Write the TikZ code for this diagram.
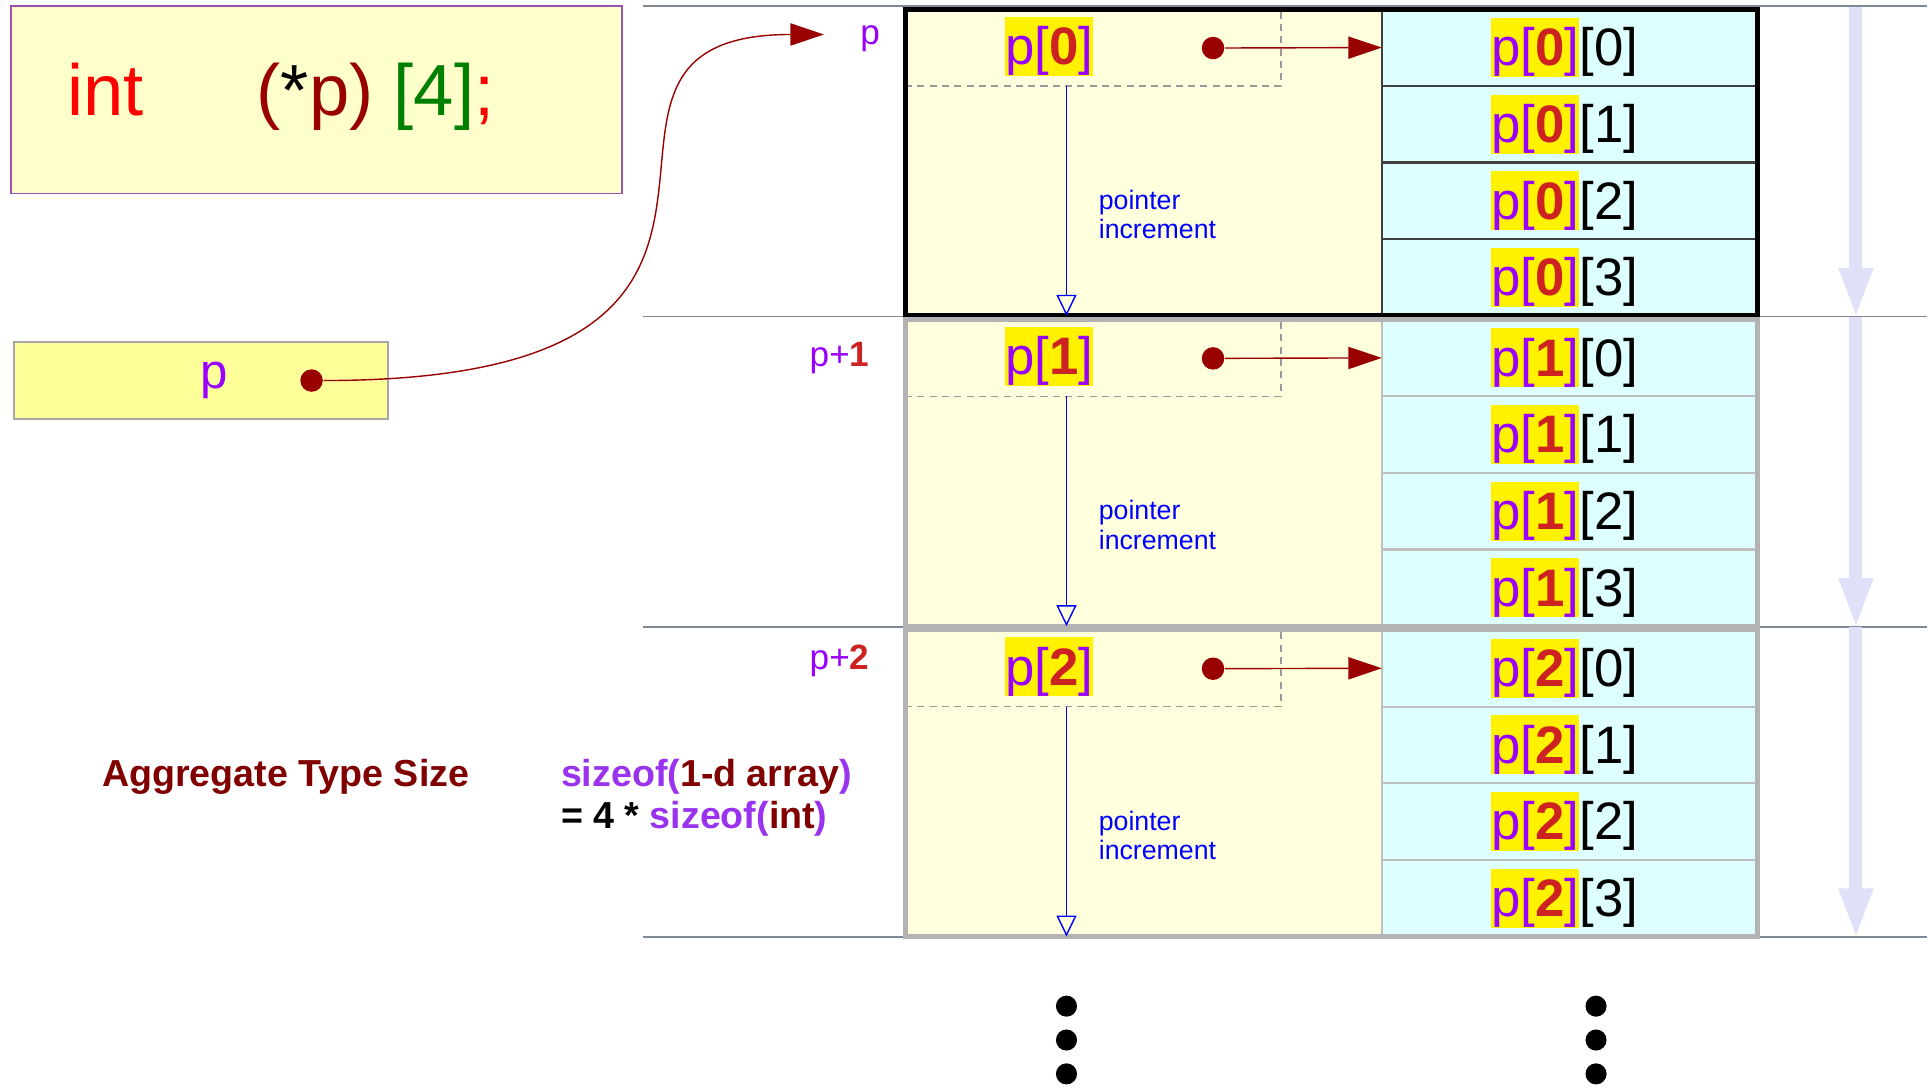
\documentclass[tikz,border=0pt]{standalone}
\usepackage{fontspec}
\setmainfont{Liberation Sans}
\usepackage{xcolor}
\usepackage{tikz}
\usetikzlibrary{arrows.meta,positioning,fit}

\definecolor{ptrpurple}{HTML}{9900FF}
\definecolor{idxred}{HTML}{CC2222}
\definecolor{hlyellow}{HTML}{FFF200}
\definecolor{halfyellow}{HTML}{FFFFDD}
\definecolor{cellcyan}{HTML}{DDFFFF}
\definecolor{declyellow}{HTML}{FFFFCC}
\definecolor{pboxyellow}{HTML}{FFFF99}
\definecolor{declpurple}{HTML}{A050B0}
\definecolor{darkred}{HTML}{990000}
\definecolor{maroon}{HTML}{800000}
\definecolor{sizepurple}{HTML}{9933EE}
\definecolor{codegreen}{HTML}{008000}
\definecolor{rulegray}{HTML}{808A95}
\definecolor{framegray}{HTML}{B3B3B3}
\definecolor{lavender}{HTML}{E0E0F8}

% p[k] in its colours, and the yellow marker behind it
\newcommand{\pk}[1]{\textcolor{ptrpurple}{p[}\textcolor{idxred}{\textbf{#1}}\textcolor{ptrpurple}{]}}
\newcommand{\hlbox}[1]{{\setlength{\fboxsep}{0pt}\colorbox{hlyellow}{\rule[-0.212em]{0pt}{1.117em}#1}}}

\begin{document}
\begin{tikzpicture}[
  x=0.012315cm, y=-0.012315cm,
  decl/.style={rectangle, draw=declpurple, fill=declyellow, line width=0.5pt, minimum width=173.8pt, minimum height=53.3pt},
  decltext/.style={font=\fontsize{20.6}{24}\selectfont, inner sep=0},
  pbox/.style={rectangle, draw=black!35, fill=pboxyellow, line width=0.5pt, minimum width=106.3pt, minimum height=21.9pt, font=\fontsize{14}{17}\selectfont, text=ptrpurple},
  half/.style={rectangle, fill=halfyellow, minimum width=135.6pt, minimum height=87.25pt, inner sep=0, outer sep=0},
  cell/.style={rectangle, fill=cellcyan, draw=#1, line width=0.6pt, minimum width=106.9pt, minimum height=21.81pt, inner sep=0, outer sep=0, font=\fontsize{15}{18}\selectfont},
  cell/.default=black!75,
  slot/.style={rectangle, draw=black!40, dash pattern=on 2pt off 1.5pt, line width=0.4pt, minimum width=106.9pt, minimum height=21.81pt, inner sep=0, outer sep=0},
  ptr/.style={fill=hlyellow, inner sep=0, text height=13.58pt, text depth=3.18pt, font=\fontsize{15}{18}\selectfont},
  dot/.style={circle, fill=darkred, minimum size=6.4pt, inner sep=0},
  blockframe/.style={rectangle, draw=#1, line width=1.4pt, inner sep=0},
  addr/.style={font=\fontsize{10}{12}\selectfont, text=ptrpurple, inner sep=0},
  incrlabel/.style={font=\fontsize{7.6}{8.3}\selectfont, text=blue, align=left, inner sep=0},
  sizetext/.style={font=\fontsize{10.7}{11.9}\selectfont\bfseries, inner sep=0},
  ellip/.style={circle, fill=black, minimum size=6pt, inner sep=0},
  sepline/.style={draw=rulegray, line width=0.5pt},
  incr/.style={-{Triangle[open, length=6pt, width=5.7pt]}, draw=blue, line width=0.4pt},
  ptrarrow/.style={-{Triangle[length=9.5pt, width=6.3pt]}, draw=darkred, line width=0.4pt},
  stride/.style={-{Triangle[length=14.4pt, width=8.8pt]}, draw=lavender, line width=3.7pt},
]
\useasboundingbox (0,0) rectangle (1568,883);

% Separators
\draw[sepline] (522,5) -- (1565,5);
\draw[sepline] (522,257) -- (1565,257);
\draw[sepline] (522,509) -- (1565,509);
\draw[sepline] (522,761) -- (1565,761);

% Declaration
\node[decl] (decl) at (257,81) {};
\node[decltext, anchor=base west, text=red] (kw) at (54,93.4) {int};
\node[decltext, anchor=base west] (declr) at (208,93.4) {\textcolor{darkred}{(}*\textcolor{darkred}{p)} \textcolor{codegreen}{[4]}\textcolor{red}{;}};

% Pointer variable
\node[pbox] (pvar) at (163.3,308.8) {\hspace*{7.4pt}p};
\node[dot] (pdot) at (253,309) {};
\coordinate (ptip) at (669,28);

% Block 0
\node[half] (half0) at (928.5,132) {};
\node[cell, anchor=north west] (c00) at (half0.north east) {\hlbox{\pk{0}}[0]\hspace*{2.8pt}};
\node[cell, below=0pt of c00] (c01) {\hlbox{\pk{0}}[1]\hspace*{2.8pt}};
\node[cell, below=0pt of c01] (c02) {\hlbox{\pk{0}}[2]\hspace*{2.8pt}};
\node[cell, below=0pt of c02] (c03) {\hlbox{\pk{0}}[3]\hspace*{2.8pt}};
\node[slot, anchor=north west] (slot0) at (half0.north west) {};
\node[ptr] (ptr0) at (852,37.5) {\pk{0}};
\node[dot] (dot0) at (985,39) {};
\node[blockframe=black, fit=(half0)(c03)] (blk0) {};
\node[addr, anchor=base east] (addr0) at (715,36.5) {p};

% Block 1
\node[half] (half1) at (928.5,384) {};
\node[cell=black!25, anchor=north west] (c10) at (half1.north east) {\hlbox{\pk{1}}[0]\hspace*{2.8pt}};
\node[cell=black!25, below=0pt of c10] (c11) {\hlbox{\pk{1}}[1]\hspace*{2.8pt}};
\node[cell=black!25, below=0pt of c11] (c12) {\hlbox{\pk{1}}[2]\hspace*{2.8pt}};
\node[cell=black!25, below=0pt of c12] (c13) {\hlbox{\pk{1}}[3]\hspace*{2.8pt}};
\node[slot, anchor=north west] (slot1) at (half1.north west) {};
\node[ptr] (ptr1) at (852,289.5) {\pk{1}};
\node[dot] (dot1) at (985,291) {};
\node[blockframe=framegray, fit=(half1)(c13)] (blk1) {};
\node[addr, anchor=base east] (addr1) at (706.5,297.7) {p+\textcolor{idxred}{\textbf{1}}};

% Block 2
\node[half] (half2) at (928.5,636) {};
\node[cell=black!25, anchor=north west] (c20) at (half2.north east) {\hlbox{\pk{2}}[0]\hspace*{2.8pt}};
\node[cell=black!25, below=0pt of c20] (c21) {\hlbox{\pk{2}}[1]\hspace*{2.8pt}};
\node[cell=black!25, below=0pt of c21] (c22) {\hlbox{\pk{2}}[2]\hspace*{2.8pt}};
\node[cell=black!25, below=0pt of c22] (c23) {\hlbox{\pk{2}}[3]\hspace*{2.8pt}};
\node[slot, anchor=north west] (slot2) at (half2.north west) {};
\node[ptr] (ptr2) at (852,541.5) {\pk{2}};
\node[dot] (dot2) at (985,543) {};
\node[blockframe=framegray, fit=(half2)(c23)] (blk2) {};
\node[addr, anchor=base east] (addr2) at (706.5,544) {p+\textcolor{idxred}{\textbf{2}}};

% Sizes
\node[sizetext, text=maroon] (aggr) at (232,631) {Aggregate Type Size};
\node[sizetext, align=left, anchor=base west] (sizeexpr) at (455,673) {\textcolor{sizepurple}{sizeof(}\textcolor{maroon}{1-d array}\textcolor{sizepurple}{)}\\= 4 * \textcolor{sizepurple}{sizeof(}\textcolor{maroon}{int}\textcolor{sizepurple}{)}};

% More rows
\node[ellip] (more1) at (866,817) {};
\node[ellip] (more2) at (866,844.5) {};
\node[ellip] (more3) at (866,872) {};
\node[ellip] (more4) at (1296,817) {};
\node[ellip] (more5) at (1296,844.5) {};
\node[ellip] (more6) at (1296,872) {};

% Arrows
\draw[ptrarrow] (pdot) .. controls +(453,0) and +(-255,0) .. (ptip);
\draw[ptrarrow] (dot0) -- (c00.west);
\draw[ptrarrow] (dot1) -- (c10.west);
\draw[ptrarrow] (dot2) -- (c20.west);
\draw[incr] ([xshift=45.9pt]slot0.south west) -- ([xshift=45.9pt]half0.south west) node[incrlabel, pos=0.56, right=9pt] {pointer\\increment};
\draw[incr] ([xshift=45.9pt]slot1.south west) -- ([xshift=45.9pt]half1.south west) node[incrlabel, pos=0.56, right=9pt] {pointer\\increment};
\draw[incr] ([xshift=45.9pt]slot2.south west) -- ([xshift=45.9pt]half2.south west) node[incrlabel, pos=0.56, right=9pt] {pointer\\increment};
\draw[stride] ([xshift=27.3pt]blk0.north east) -- ([xshift=27.3pt]blk0.south east);
\draw[stride] ([xshift=27.3pt]blk1.north east) -- ([xshift=27.3pt]blk1.south east);
\draw[stride] ([xshift=27.3pt]blk2.north east) -- ([xshift=27.3pt]blk2.south east);

\end{tikzpicture}
\end{document}
